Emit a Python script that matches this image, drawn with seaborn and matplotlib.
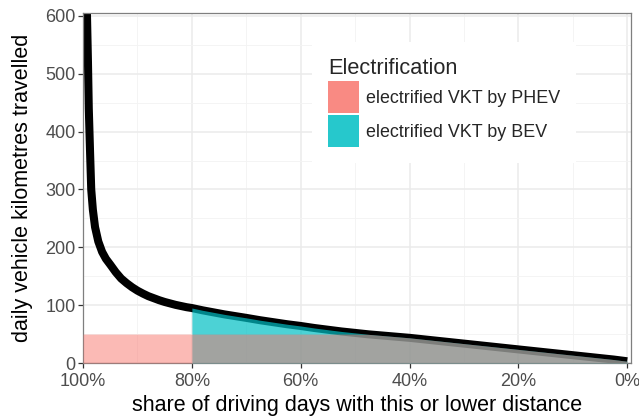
import numpy as np
import pandas as pd
import matplotlib
matplotlib.use("Agg")
import matplotlib.pyplot as plt
from matplotlib.patches import Patch
from matplotlib.ticker import MultipleLocator, FixedLocator
import seaborn as sns

# share of driving days with this or lower distance (%), and daily VKT (km)
share = [100, 99.6, 99.3, 99.1, 98.95, 98.7, 98.5, 98.2, 97.8, 97.2, 96.5,
         95.8, 95.0, 94.0, 93.0, 92.0, 91.0, 90.0, 89.0, 88.0, 87.0, 86.0,
         85.0, 84.0, 83.0, 82.0, 81.0, 80.0, 78.0, 76.0, 74.0, 72.0, 70.0,
         67.5, 65.0, 62.5, 60.0, 57.5, 55.0, 52.5, 50.0, 47.5, 45.0, 42.5,
         40.0, 37.5, 35.0, 32.5, 30.0, 27.5, 25.0, 22.5, 20.0, 17.5, 15.0,
         12.5, 10.0, 7.5, 5.0, 2.5, 0.0]
km = [900, 720, 610, 520, 440, 360, 300, 265, 235, 210, 192,
      180, 170, 157, 146, 138, 131, 125, 120, 115.5, 112, 108.5,
      105.5, 103, 100.5, 98.5, 96.5, 95, 91, 87.5, 84, 81, 78,
      74, 70.5, 67, 64, 60.5, 57.5, 54.5, 52, 49.5, 47.5, 45.5,
      43.5, 41, 38.5, 36, 33.5, 31, 28.5, 26, 23.5, 21, 18.5,
      16, 13.5, 11, 8.5, 6, 3]

phev_range = 50      # km covered electrically by PHEV
bev_from_share = 80  # BEV electrifies days at or below this share
legend_labels = ["electrified VKT by PHEV", "electrified VKT by BEV"]
x_ticks = [100, 80, 60, 40, 20, 0]
x_tick_labels = ["100%", "80%", "60%", "40%", "20%", "0%"]
y_ticks = [0, 100, 200, 300, 400, 500, 600]

pink = "#F8766D"
teal = "#00BFC4"

df = pd.DataFrame({"share": share, "km": km})

sns.set_theme(style="white")
plt.rcParams["font.family"] = ["Liberation Sans", "DejaVu Sans"]

fig = plt.figure(figsize=(6.39, 4.16), dpi=100)
ax = fig.add_axes([0.130, 0.1274, 0.8575, 0.8414])

# curve
sns.lineplot(data=df, x="share", y="km", color="black", linewidth=5.8,
             ax=ax, zorder=2, sort=False, solid_joinstyle="round",
             solid_capstyle="butt")

# BEV: all days at or below the threshold share, full distance
bev = df[df["share"] <= bev_from_share]
ax.fill_between(bev["share"], 0, bev["km"], color=teal, alpha=0.7,
                linewidth=0, zorder=3)

# PHEV: first 50 km of every day
ax.fill_between(df["share"], 0, np.minimum(df["km"], phev_range), color=pink,
                alpha=0.5, linewidth=0, zorder=4)

ax.set_xlim(100, -0.7)
ax.set_ylim(0, 605)
ax.xaxis.set_major_locator(FixedLocator(x_ticks))
ax.set_xticklabels(x_tick_labels)
ax.xaxis.set_minor_locator(MultipleLocator(10))
ax.yaxis.set_major_locator(FixedLocator(y_ticks))
ax.yaxis.set_minor_locator(MultipleLocator(50))

ax.grid(which="major", color="#EBEBEB", linewidth=1.1, zorder=0)
ax.grid(which="minor", color="#F3F3F3", linewidth=0.6, zorder=0)
ax.set_axisbelow(True)

for s in ax.spines.values():
    s.set_color("#7F7F7F")
    s.set_linewidth(0.9)

ax.tick_params(axis="both", which="major", length=3.5, width=0.9,
               color="#333333", labelsize=13, labelcolor="#4D4D4D", pad=2,
               bottom=True, left=True)
ax.tick_params(axis="x", which="major", pad=3.5)
ax.tick_params(axis="both", which="minor", length=0)

ax.set_xlabel("share of driving days with this or lower distance",
              fontsize=15.5, color="black", labelpad=4)
ax.set_ylabel("daily vehicle kilometres travelled", fontsize=15.5,
              color="black", labelpad=9)

handles = [Patch(facecolor=pink, alpha=0.85, edgecolor="none"),
           Patch(facecolor=teal, alpha=0.85, edgecolor="none")]
leg = ax.legend(handles, legend_labels, title="Electrification",
                loc="upper left", bbox_to_anchor=(0.418, 0.917),
                fontsize=12.9, title_fontsize=15.7, frameon=True,
                facecolor="white", edgecolor="none", framealpha=1,
                fancybox=False, handlelength=1.7, handleheight=2.35,
                labelspacing=0.12, handletextpad=0.4, borderpad=0.9,
                borderaxespad=0)
leg._legend_box.align = "left"
leg.set_zorder(5)

fig.savefig("out.png", dpi=100)
